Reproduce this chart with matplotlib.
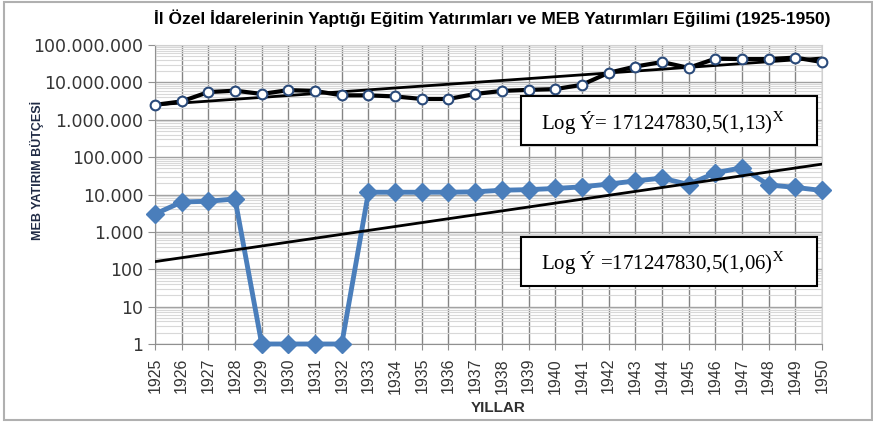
import matplotlib
matplotlib.use("Agg")
import matplotlib.pyplot as plt
import matplotlib.ticker as mticker
from matplotlib.patches import Rectangle
import numpy as np

years = list(range(1925, 1951))

# Il Ozel Idareleri egitim yatirimlari (ust seri)
ozel_idare = [2500000, 3100000, 5500000, 6000000, 4900000, 6200000, 5900000, 4500000,
              4500000, 4200000, 3600000, 3600000, 4900000, 5900000, 6300000, 6600000,
              8600000, 18000000, 26500000, 35000000, 24500000, 43000000, 42000000,
              42000000, 46000000, 35000000]

# MEB yatirim butcesi (alt seri)
meb = [3000, 6300, 6600, 7600, 1, 1, 1, 1,
       11500, 11500, 11500, 11500, 11800, 13000, 13500, 14500,
       16000, 19000, 23000, 27500, 18500, 38000, 52000, 18000, 15500, 12800]

# trend cizgileri (baslangic / bitis)
trend_years = [1925, 1950]
trend_ozel = [2500000, 45000000]
trend_meb = [160, 65000]

eq_ozel = "Log Ý= 171247830,5(1,13)"
eq_meb = "Log Ý =171247830,5(1,06)"

plt.rcParams['mathtext.fontset'] = 'stix'

fig = plt.figure(figsize=(8.73, 4.22), dpi=100)
ax = fig.add_axes([155/873, 78/422, 667/873, 299/422])

ax.set_yscale('log')
ax.set_ylim(1, 1e8)
ax.set_xlim(1925, 1950)

# grid
ax.yaxis.set_major_locator(mticker.LogLocator(base=10, numticks=20))
ax.yaxis.set_minor_locator(mticker.LogLocator(base=10, subs=np.arange(2, 10), numticks=20))
ax.yaxis.set_minor_formatter(mticker.NullFormatter())
ax.yaxis.set_major_formatter(mticker.FuncFormatter(lambda v, p: "{:,.0f}".format(v).replace(",", ".")))
ax.set_xticks(years)
ax.set_xticklabels([str(y) for y in years], rotation=90, family='Liberation Sans')
ax.grid(which='major', axis='y', color='#a0a0a0', linewidth=1)
ax.grid(which='minor', axis='y', color='#d8d8d8', linewidth=0.8)
ax.grid(which='major', axis='x', color='#858585', linewidth=1)
ax.set_axisbelow(True)

for s in ['top', 'right']:
    ax.spines[s].set_color('#d0d0d0')
for s in ['left', 'bottom']:
    ax.spines[s].set_color('#909090')
ax.tick_params(axis='y', which='major', length=5, color='#909090', labelsize=12.5, labelcolor='#353535')
ax.tick_params(axis='y', which='minor', length=0)
ax.tick_params(axis='x', length=4, color='#909090', labelsize=11.5, labelcolor='#353535', pad=6)

# seriler
ax.plot(years, meb, color='#4a7ebb', linewidth=3.5, marker='D', markersize=9,
        markerfacecolor='#4a7ebb', markeredgecolor='#4a7ebb', zorder=3, clip_on=False)
ax.plot(years, ozel_idare, color='black', linewidth=3, marker='o', markersize=7,
        markerfacecolor='white', markeredgecolor='#2a4a7a', markeredgewidth=1.5, zorder=4, clip_on=False)
ax.plot(trend_years, trend_ozel, color='black', linewidth=2, zorder=3)
ax.plot(trend_years, trend_meb, color='black', linewidth=2, zorder=3)

# denklem kutulari
for y0, txt in [(96, eq_ozel), (237, eq_meb)]:
    fig.patches.append(Rectangle((521/873, 1 - (y0 + 49)/422), 296/873, 49/422,
                                 transform=fig.transFigure, facecolor='white',
                                 edgecolor='black', linewidth=1.5, zorder=5))
    fig.text(541/873, 1 - (y0 + 26)/422, txt + r"$^{\mathrm{X}}$", fontsize=15,
             family='Liberation Serif', va='center', ha='left', zorder=6)

fig.text(492/873, 1 - 18/422,
         "İl Özel İdarelerinin Yaptığı Eğitim Yatırımları ve MEB Yatırımları Eğilimi (1925-1950)",
         ha='center', va='center', fontsize=12.5, fontweight='bold', family='Liberation Sans')
fig.text(37/873, 1 - 170/422, "MEB YATIRIM BÜTÇESİ", rotation=90, ha='center', va='center',
         fontsize=9, fontweight='bold', family='Liberation Sans', color='#1f2a44')
fig.text(498/873, 1 - 408/422, "YILLAR", ha='center', va='center', fontsize=11,
         fontweight='bold', family='Liberation Sans', color='#303030')

fig.patches.append(Rectangle((4/873, 2/422), 868/873, 418/422, transform=fig.transFigure,
                             facecolor='none', edgecolor='#b0b0b0', linewidth=1.5))

fig.savefig('out.png', dpi=100)
